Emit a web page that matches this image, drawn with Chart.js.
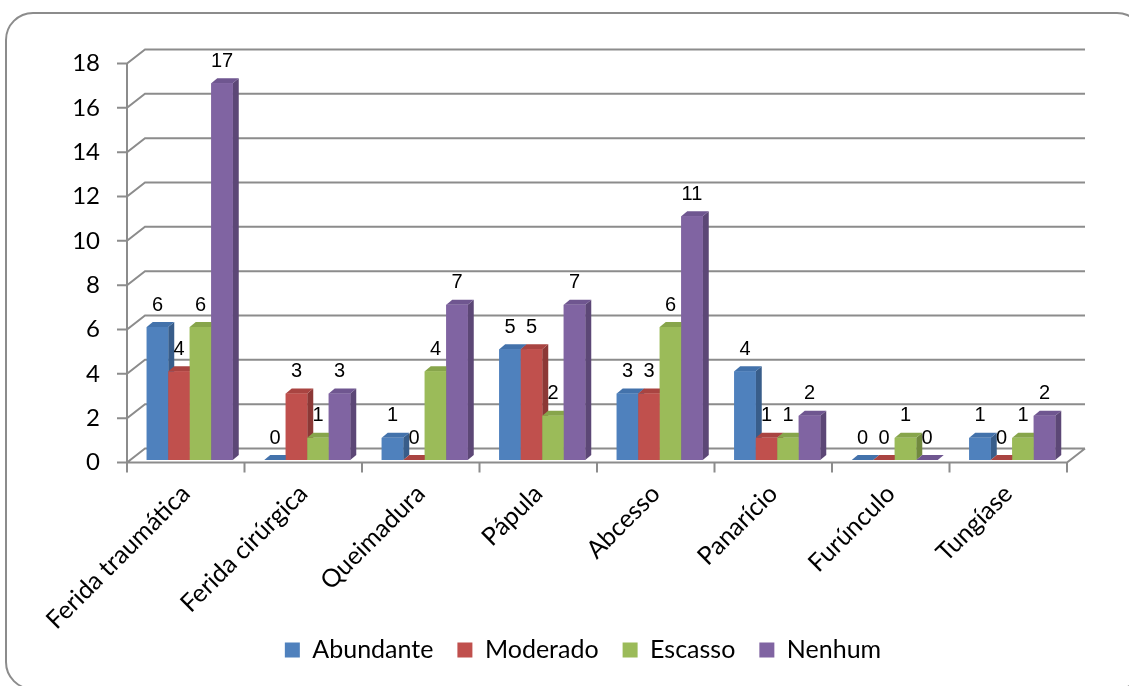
<!DOCTYPE html>
<html lang="pt">
<head>
    <meta charset="UTF-8">
    <title>Exsudato por tipo de lesão</title>
    <style>
        body {
            margin: 0;
            background: #ffffff;
            overflow: hidden;
        }
        .frame {
            position: absolute;
            left: 5px;
            top: 12px;
            width: 1140px;
            height: 678px;
            box-sizing: border-box;
            border: 2px solid #8c8c8c;
            border-radius: 28px;
        }
        #chartBox {
            position: absolute;
            left: 0;
            top: 0;
            width: 1140px;
            height: 760px;
        }
    </style>
</head>
<body>
    <div class="frame"></div>
    <div id="chartBox">
        <canvas id="woundChart" width="1140" height="760"></canvas>
    </div>

    <script src="https://cdn.jsdelivr.net/npm/chart.js"></script>

    <script>
        const categories = ['Ferida traumática', 'Ferida cirúrgica', 'Queimadura', 'Pápula', 'Abcesso', 'Panarício', 'Furúnculo', 'Tungíase'];
        const seriesNames = ['Abundante', 'Moderado', 'Escasso', 'Nenhum'];
        const abundante = [6, 0, 1, 5, 3, 4, 0, 1];
        const moderado = [4, 3, 0, 5, 3, 1, 0, 0];
        const escasso = [6, 1, 4, 2, 6, 1, 1, 1];
        const nenhum = [17, 3, 7, 7, 11, 2, 0, 2];
        const yMin = 0;
        const yMax = 18;
        const yStep = 2;

        // front, top and side shades for each series
        const frontColors = ['#4f81bd', '#c0504d', '#9bbb59', '#8064a2'];
        const topColors = ['#4372ab', '#a94441', '#87a54b', '#6f5690'];
        const sideColors = ['#385d8a', '#8c3836', '#71893f', '#5c4776'];

        const gridColor = '#8c8c8c';
        const depth = { x: 18, y: 14 };      // back wall offset
        const barDepth = { x: 6, y: 5 };     // bar extrusion
        const planeShift = { x: 4, y: 2.5 }; // bars sit a little behind the front edge

        const plotBottom = 460;                  // bottom of the bar plane
        const legendCenter = { x: 583, y: 643 }; // legend sits inside the frame, under the labels

        const textFont = 'Lato, "Open Sans", sans-serif';

        // walls, floor and gridlines in pseudo 3D
        const wallPlugin = {
            id: 'walls',
            beforeDatasetsDraw(chart) {
                const { ctx, chartArea, scales } = chart;
                const yScale = scales.y;
                const fx0 = chartArea.left - planeShift.x;
                const fx1 = chartArea.right - planeShift.x;
                const bx0 = fx0 + depth.x;
                const bx1 = fx1 + depth.x;
                ctx.save();
                ctx.strokeStyle = gridColor;
                ctx.lineWidth = 2;
                ctx.beginPath();
                for (let v = yMin; v <= yMax; v += yStep) {
                    const fy = yScale.getPixelForValue(v) + planeShift.y;
                    const by = fy - depth.y;
                    ctx.moveTo(fx0 - 10, fy);
                    ctx.lineTo(fx0, fy);
                    ctx.lineTo(bx0, by);
                    ctx.lineTo(bx1, by);
                }
                const top = yScale.getPixelForValue(yMax) + planeShift.y;
                const floor = yScale.getPixelForValue(yMin) + planeShift.y;
                // front axis
                ctx.moveTo(fx0, top);
                ctx.lineTo(fx0, floor);
                // front edge of the floor and its right side
                ctx.moveTo(fx0, floor);
                ctx.lineTo(fx1, floor);
                ctx.lineTo(bx1, floor - depth.y);
                // category ticks
                const step = (fx1 - fx0) / categories.length;
                for (let i = 0; i <= categories.length; i++) {
                    const x = fx0 + i * step;
                    ctx.moveTo(x, floor);
                    ctx.lineTo(x, floor + 10);
                }
                ctx.stroke();
                ctx.restore();
            }
        };

        // redraw each bar with a top and a side face, series by series
        const barsPlugin = {
            id: 'bars3d',
            afterDatasetsDraw(chart) {
                const { ctx } = chart;
                ctx.save();
                chart.data.datasets.forEach((ds, di) => {
                    const meta = chart.getDatasetMeta(di);
                    meta.data.forEach((bar) => {
                        const p = bar.getProps(['x', 'y', 'base', 'width'], true);
                        const l = p.x - p.width / 2;
                        const r = p.x + p.width / 2;
                        const t = p.y;
                        const b = p.base;
                        // side
                        ctx.fillStyle = sideColors[di];
                        ctx.beginPath();
                        ctx.moveTo(r, t);
                        ctx.lineTo(r + barDepth.x, t - barDepth.y);
                        ctx.lineTo(r + barDepth.x, b - barDepth.y);
                        ctx.lineTo(r, b);
                        ctx.closePath();
                        ctx.fill();
                        // top
                        ctx.fillStyle = topColors[di];
                        ctx.beginPath();
                        ctx.moveTo(l, t);
                        ctx.lineTo(l + barDepth.x, t - barDepth.y);
                        ctx.lineTo(r + barDepth.x, t - barDepth.y);
                        ctx.lineTo(r, t);
                        ctx.closePath();
                        ctx.fill();
                        // front
                        ctx.fillStyle = frontColors[di];
                        ctx.fillRect(l, t, r - l, b - t);
                    });
                });
                ctx.restore();
            }
        };

        // value labels above the bars
        const valueLabels = {
            id: 'valueLabels',
            afterDraw(chart) {
                const { ctx } = chart;
                ctx.save();
                ctx.font = '20px "Liberation Sans", Arial, sans-serif';
                ctx.fillStyle = '#000';
                ctx.textAlign = 'center';
                ctx.textBaseline = 'middle';
                chart.data.datasets.forEach((ds, di) => {
                    chart.getDatasetMeta(di).data.forEach((bar, i) => {
                        ctx.fillText(String(ds.data[i]), bar.x, bar.y - 22);
                    });
                });
                ctx.restore();
            }
        };

        // move the legend box up under the category labels
        const legendPlacement = {
            id: 'legendPlacement',
            afterLayout(chart) {
                const lg = chart.legend;
                if (!lg) return;
                const dx = legendCenter.x - (lg.left + lg.right) / 2;
                const dy = legendCenter.y - (lg.top + lg.bottom) / 2;
                lg.left += dx;
                lg.right += dx;
                lg.top += dy;
                lg.bottom += dy;
            }
        };

        const seriesData = [abundante, moderado, escasso, nenhum];

        const ctx = document.getElementById('woundChart').getContext('2d');
        new Chart(ctx, {
            type: 'bar',
            data: {
                labels: categories,
                datasets: seriesNames.map((name, i) => ({
                    label: name,
                    data: seriesData[i],
                    backgroundColor: frontColors[i],
                    borderWidth: 0,
                    categoryPercentage: 0.732,
                    barPercentage: 1.0
                }))
            },
            options: {
                responsive: false,
                animation: false,
                layout: {
                    padding: { left: 0, right: 69, top: 61, bottom: 0 }
                },
                plugins: {
                    legend: {
                        position: 'bottom',
                        labels: {
                            boxWidth: 15,
                            boxHeight: 15,
                            padding: 24,
                            color: '#000',
                            font: { family: textFont, size: 25 }
                        }
                    },
                    tooltip: { enabled: false }
                },
                scales: {
                    x: {
                        grid: { display: false, drawTicks: false },
                        border: { display: false },
                        ticks: {
                            minRotation: 45,
                            maxRotation: 45,
                            padding: 19,
                            labelOffset: -planeShift.x,
                            color: '#000',
                            font: { family: textFont, size: 25 }
                        },
                        afterFit(scale) {
                            const legendH = scale.chart.legend ? scale.chart.legend.height : 0;
                            scale.height = scale.chart.height - legendH - plotBottom;
                        }
                    },
                    y: {
                        min: yMin,
                        max: yMax,
                        grid: { display: false, drawTicks: false },
                        border: { display: false },
                        ticks: {
                            stepSize: yStep,
                            padding: 31,
                            labelOffset: planeShift.y,
                            color: '#000',
                            font: { family: textFont, size: 24 }
                        },
                        afterFit(scale) { scale.width = 131; }
                    }
                }
            },
            plugins: [wallPlugin, barsPlugin, valueLabels, legendPlacement]
        });
    </script>
</body>
</html>
